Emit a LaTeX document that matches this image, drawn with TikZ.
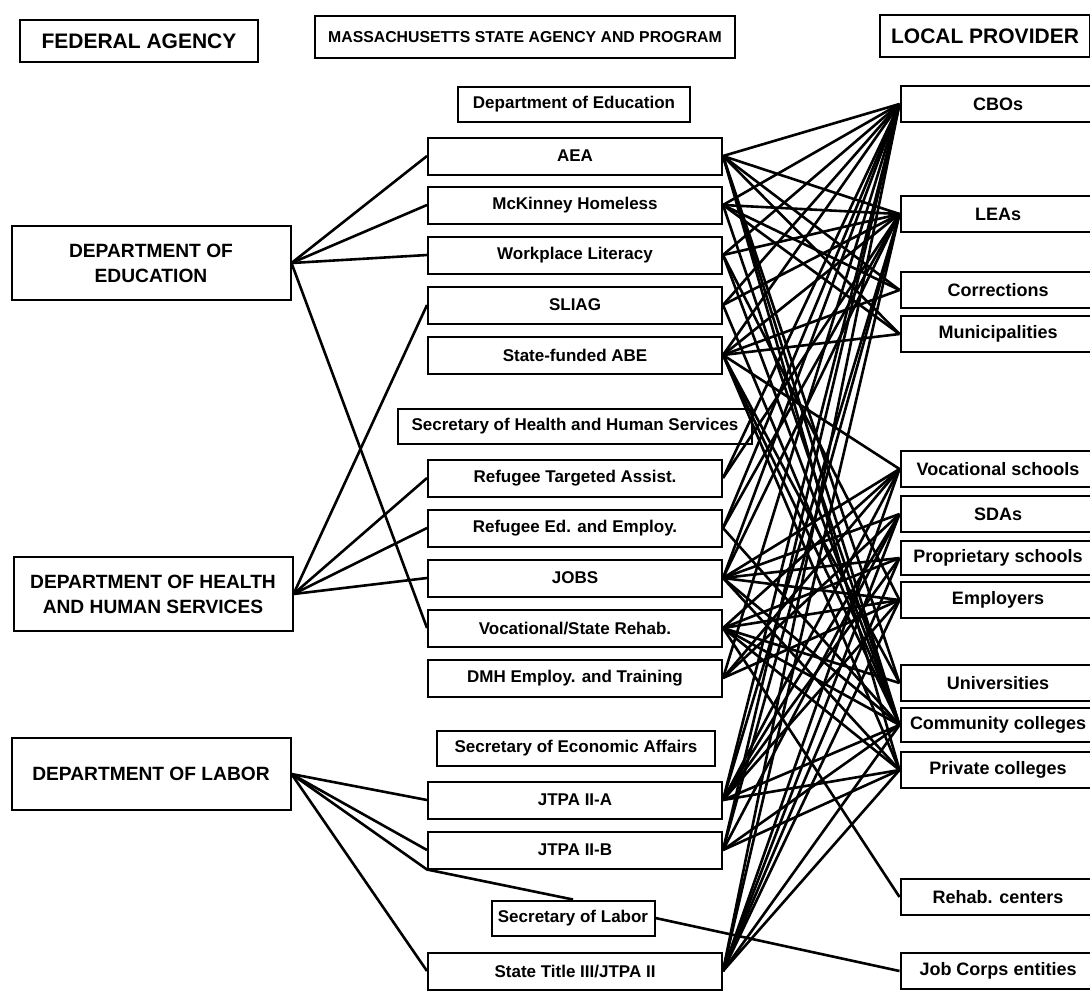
\documentclass[tikz,border=0pt]{standalone}
\usepackage{fontspec}
\setmainfont{Liberation Sans}
\usepackage{tikz}
\usetikzlibrary{positioning}
\tikzset{
    headbox/.style={draw, line width=1pt, inner sep=0pt, minimum height=21pt, font=\bfseries\fontsize{10.5}{12}\selectfont},
    fedbox/.style={draw, line width=1pt, inner sep=0pt, minimum width=139.5pt, minimum height=37pt, align=center, font=\bfseries\fontsize{9.6}{12.5}\selectfont},
    progbox/.style={draw, line width=1pt, inner sep=0pt, minimum width=147pt, minimum height=18.5pt, font=\bfseries\fontsize{8.5}{9}\selectfont},
    secbox/.style={draw, line width=1pt, inner sep=0pt, minimum height=17.5pt, font=\bfseries\fontsize{8.5}{9}\selectfont},
    provbox/.style={draw, line width=1pt, inner sep=0pt, minimum width=97.5pt, minimum height=18pt, font=\bfseries\fontsize{9}{10}\selectfont},
    link/.style={line width=1.3pt}
}
\begin{document}
\begin{tikzpicture}[x=0.5pt, y=-0.5pt]
        \useasboundingbox (0,0) rectangle (1090,992);
        % column heads
        \node[headbox, minimum width=119pt] (fedhead) at (139,41) {FEDERAL AGENCY};
        \node[headbox, minimum width=210pt, font=\bfseries\fontsize{7.9}{9}\selectfont] (masshead) at (525,37) {MASSACHUSETTS STATE AGENCY AND PROGRAM};
        \node[headbox, minimum width=105pt] (lochead) at (985,36) {LOCAL PROVIDER};
        % federal agencies
        \node[fedbox] (fedu) at (151,263) {DEPARTMENT OF\\EDUCATION};
        \node[fedbox] (fhhs) at (153,594) {DEPARTMENT OF HEALTH\\AND HUMAN SERVICES};
        \node[fedbox, minimum height=36pt] (flab) at (151,774) {DEPARTMENT OF LABOR};
        % state agencies and programs
        \node[secbox, minimum width=116pt] (sdoe) at (574,104) {Department of Education};
        \node[progbox] (aea) at (575,156) {AEA};
        \node[progbox] (mck) at (575,205) {McKinney Homeless};
        \node[progbox] (wpl) at (575,255) {Workplace Literacy};
        \node[progbox] (sliag) at (575,305) {SLIAG};
        \node[progbox] (abe) at (575,355) {State-funded ABE};
        \node[secbox, minimum width=177pt] (shhs) at (575,426) {Secretary of Health and Human Services};
        \node[progbox] (rta) at (575,478) {Refugee Targeted Assist.};
        \node[progbox] (rea) at (575,528) {Refugee Ed. and Employ.};
        \node[progbox] (jobs) at (575,578) {JOBS};
        \node[progbox] (vrehab) at (575,628) {Vocational/State Rehab.};
        \node[progbox] (dmh) at (575,678) {DMH Employ. and Training};
        \node[secbox, minimum width=139pt] (secea) at (576,748) {Secretary of Economic Affairs};
        \node[progbox] (jtpaa) at (575,800) {JTPA II-A};
        \node[progbox] (jtpab) at (575,850) {JTPA II-B};
        \node[secbox, minimum width=81.5pt] (seclab) at (573,918) {Secretary of Labor};
        \node[progbox] (title) at (575,971) {State Title III/JTPA II};
        % local providers
        \node[provbox] (cbo) at (998,104) {CBOs};
        \node[provbox] (lea) at (998,214) {LEAs};
        \node[provbox] (corr) at (998,290) {Corrections};
        \node[provbox] (muni) at (998,334) {Municipalities};
        \node[provbox] (voc) at (998,469) {Vocational schools};
        \node[provbox] (sda) at (998,514) {SDAs};
        \node[provbox, minimum height=17pt] (prop) at (998,558) {Proprietary schools};
        \node[provbox] (empl) at (998,600) {Employers};
        \node[provbox] (univ) at (998,683) {Universities};
        \node[provbox, minimum height=17pt] (comm) at (998,725) {Community colleges};
        \node[provbox] (priv) at (998,770) {Private colleges};
        \node[provbox] (rehab) at (998,897) {Rehab. centers};
        \node[provbox] (jobc) at (998,971) {Job Corps entities};
        % federal to state
        \foreach \a/\b in {fedu/aea, fedu/mck, fedu/wpl, fedu/vrehab,
                           fhhs/sliag, fhhs/rta, fhhs/rea, fhhs/jobs,
                           flab/jtpaa, flab/jtpab, flab/title}{
            \draw[link] (\a.east) -- (\b.west);
        }
        \draw[link] (flab.east) -- (jtpab.south west) -- (seclab.north);
        \draw[link] (seclab.east) -- (jobc.west);
        % state to local
        \foreach \a/\b in {aea/cbo, aea/lea, aea/corr, aea/muni, aea/univ, aea/comm, aea/priv,
                           mck/cbo, mck/lea, mck/corr, mck/muni, mck/comm,
                           wpl/cbo, wpl/lea, wpl/empl, wpl/comm,
                           sliag/cbo, sliag/lea, sliag/comm,
                           abe/cbo, abe/lea, abe/corr, abe/muni, abe/voc, abe/univ, abe/comm, abe/priv,
                           rta/cbo, rta/lea,
                           rea/cbo, rea/lea, rea/comm}{
            \draw[link] (\a.east) -- (\b.west);
        }
        \foreach \a/\b in {jobs/cbo, jobs/lea, jobs/voc, jobs/sda, jobs/prop, jobs/empl, jobs/comm, jobs/priv,
                           vrehab/voc, vrehab/prop, vrehab/empl, vrehab/univ, vrehab/comm, vrehab/priv, vrehab/rehab,
                           dmh/cbo, dmh/voc, dmh/sda, dmh/empl,
                           jtpaa/cbo, jtpaa/lea, jtpaa/voc, jtpaa/sda, jtpaa/prop, jtpaa/empl, jtpaa/comm, jtpaa/priv,
                           jtpab/cbo, jtpab/lea, jtpab/sda, jtpab/comm, jtpab/priv,
                           title/cbo, title/lea, title/voc, title/sda, title/prop, title/empl, title/comm, title/priv}{
            \draw[link] (\a.east) -- (\b.west);
        }
\end{tikzpicture}
\end{document}
